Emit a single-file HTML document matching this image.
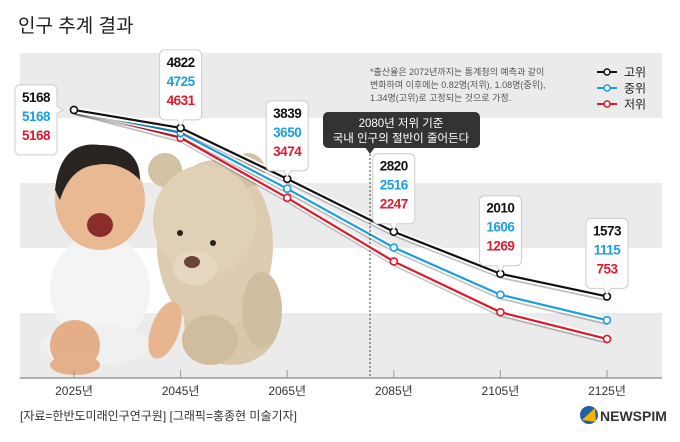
<!DOCTYPE html>
<html><head><meta charset="utf-8">
<style>
body{margin:0;background:#fff;}
#wrap{position:relative;width:680px;height:442px;overflow:hidden;font-family:"Liberation Sans","Noto Sans CJK KR",sans-serif;}
text{font-family:"Liberation Sans","Noto Sans CJK KR",sans-serif;}
</style></head>
<body>
<div id="wrap">
<svg id="chart" width="680" height="442">
  <text x="18" y="32" font-size="19" fill="#222">인구 추계 결과</text>
  <g id="bands"></g>
  <g id="photo">
    <!-- bear -->
    <ellipse cx="232" cy="320" rx="48" ry="45" fill="#d8c7aa"/>
    <ellipse cx="215" cy="245" rx="58" ry="85" fill="#dccbb0"/>
    <circle cx="165" cy="170" r="17" fill="#d3c1a3"/>
    <circle cx="248" cy="170" r="17" fill="#d3c1a3"/>
    <ellipse cx="205" cy="220" rx="52" ry="55" fill="#e0d0b6"/>
    <ellipse cx="195" cy="268" rx="22" ry="17" fill="#e6d8c0"/>
    <ellipse cx="192" cy="262" rx="8" ry="6" fill="#6b4434"/>
    <circle cx="180" cy="233" r="3" fill="#222"/>
    <circle cx="213" cy="243" r="3" fill="#222"/>
    <ellipse cx="262" cy="310" rx="20" ry="38" fill="#d0bea0"/>
    <ellipse cx="210" cy="340" rx="28" ry="25" fill="#cfbd9e"/>
    <!-- baby -->
    <ellipse cx="100" cy="290" rx="50" ry="55" fill="#f4f4f4"/>
    <ellipse cx="100" cy="200" rx="45" ry="50" fill="#e9b994"/>
    <path d="M55 190 Q60 140 100 145 Q140 145 140 180 Q120 160 95 165 Q70 168 60 200 Z" fill="#2a2420"/>
    <ellipse cx="100" cy="225" rx="13" ry="12" fill="#8a2c2c"/>
    <ellipse cx="95" cy="345" rx="55" ry="20" fill="#f0f0f0"/>
    <ellipse cx="75" cy="345" rx="25" ry="25" fill="#e4ae89"/>
    <ellipse cx="165" cy="330" rx="14" ry="30" fill="#e8b591" transform="rotate(20 165 330)"/>
    <ellipse cx="75" cy="365" rx="25" ry="10" fill="#e5af8a"/>
  </g>
  <g id="series"></g>
  <g id="labels"></g>
  <text x="370" y="75" font-size="9" fill="#555">*출산율은 2072년까지는 통계청의 예측과 같이</text>
  <text x="370" y="88" font-size="9" fill="#555">변화하며 이후에는 0.82명(저위), 1.08명(중위),</text>
  <text x="370" y="101" font-size="9" fill="#555">1.34명(고위)로 고정되는 것으로 가정.</text>
  <g id="legend"></g>
  <g>
    <line x1="370" y1="150" x2="370" y2="378" stroke="#444" stroke-width="1" stroke-dasharray="2,2"/>
    <rect x="323" y="112" width="157" height="36" rx="5" fill="#333"/>
    <path d="M365 147 L370 154 L375 147 Z" fill="#333"/>
    <text x="401" y="127" font-size="11.5" fill="#fff" text-anchor="middle">2080년 저위 기준</text>
    <text x="401" y="142" font-size="11.5" fill="#fff" text-anchor="middle">국내 인구의 절반이 줄어든다</text>
  </g>
  <line x1="20" y1="378" x2="662" y2="378" stroke="#999" stroke-width="1.5"/>
  <g id="xaxis"></g>
  <text x="20" y="420" font-size="12" fill="#333">[자료=한반도미래인구연구원] [그래픽=홍종현 미술기자]</text>
  <g>
    <circle cx="589" cy="415" r="9" fill="#1d5fa8"/>
    <path d="M582 420 L595 408 L596 422 Z" fill="#f4b400"/>
    <text x="600" y="421" font-size="14" font-weight="bold" fill="#333">NEWSPIM</text>
  </g>
</svg>
</div>
<script>
const years = ['2025년','2045년','2065년','2085년','2105년','2125년'];
const high = [5168,4822,3839,2820,2010,1573];
const mid = [5168,4725,3650,2516,1606,1115];
const low = [5168,4631,3474,2247,1269,753];
const seriesNames = ['고위','중위','저위'];
const colors = ['#111','#1a9ee0','#e0182c'];
const NS='http://www.w3.org/2000/svg';
function xPos(i){return 74 + i*106.6;}
function yPos(v){return 378 - v*0.05187;}
function mk(tag,attrs,parent){const e=document.createElementNS(NS,tag);for(const k in attrs)e.setAttribute(k,attrs[k]);parent.appendChild(e);return e;}
const bands=document.getElementById('bands');
[[53,118],[183,248],[313,378]].forEach(b=>{
  const r=mk('rect',{x:20,y:b[0],width:642,height:b[1]-b[0],fill:'#ebebeb'},bands);
  
  
});
const sg=document.getElementById('series');
[low,mid,high].forEach((arr,ri)=>{
  const si=2-ri;
  const pts=arr.map((v,i)=>xPos(i)+','+yPos(v)).join(' ');
  mk('polyline',{points:pts,fill:'none',stroke:'rgba(0,0,0,0.25)','stroke-width':6,transform:'translate(1,2)'},sg);
  mk('polyline',{points:pts,fill:'none',stroke:'#fff','stroke-width':6},sg);
  const pl=mk('polyline',{points:pts,fill:'none',stroke:colors[si],'stroke-width':2.2},sg);
  
  
  arr.forEach((v,i)=>{
    const c=mk('circle',{cx:xPos(i),cy:yPos(v),r:3.5,fill:'#fff',stroke:colors[si],'stroke-width':1.6},sg);
    
    
  });
});
const lg=document.getElementById('labels');
years.forEach((y,i)=>{
  const x=xPos(i);
  let bx,by,w=42,h=70;
  if(i===0){bx=15;by=yPos(high[0])-25;}
  else{by=yPos(high[i])-h-8;bx=x-w/2;}
  const g=mk('g',{},lg);
  
  
  mk('rect',{x:bx,y:by,width:w,height:h,rx:5,fill:'#fff',stroke:'#ccc','stroke-width':1},g);
  if(i>0){mk('path',{d:`M${x-4} ${by+h-0.5} L${x} ${by+h+6} L${x+4} ${by+h-0.5}`,fill:'#fff',stroke:'#ccc'},g);}
  else{mk('path',{d:`M${bx+w-0.5} ${yPos(high[0])-4} L${bx+w+6} ${yPos(high[0])} L${bx+w-0.5} ${yPos(high[0])+4}`,fill:'#fff',stroke:'#ccc'},g);}
  [high[i],mid[i],low[i]].forEach((v,k)=>{
    const t=mk('text',{x:bx+w/2,y:by+17+k*19,'font-size':13.5,'font-weight':'bold','text-anchor':'middle',fill:colors[k],'letter-spacing':'-0.5'},g);
    t.textContent=v;
  });
});
const xg=document.getElementById('xaxis');
years.forEach((y,i)=>{
  mk('line',{x1:xPos(i),y1:370,x2:xPos(i),y2:378,stroke:'#999'},xg);
  const t=mk('text',{x:xPos(i),y:395,'font-size':12,'text-anchor':'middle',fill:'#333'},xg);
  
  
  t.textContent=y;
});
const leg=document.getElementById('legend');
seriesNames.forEach((n,k)=>{
  const yy=72+k*16;
  const g=mk('g',{},leg);
  
  
  mk('line',{x1:597,y1:yy,x2:617,y2:yy,stroke:colors[k],'stroke-width':2},g);
  mk('circle',{cx:607,cy:yy,r:3,fill:'#fff',stroke:colors[k],'stroke-width':1.5},g);
  const t=mk('text',{x:624,y:yy+4.5,'font-size':12,fill:'#222'},g);
  t.textContent=n;
});
</script>
</body></html>
